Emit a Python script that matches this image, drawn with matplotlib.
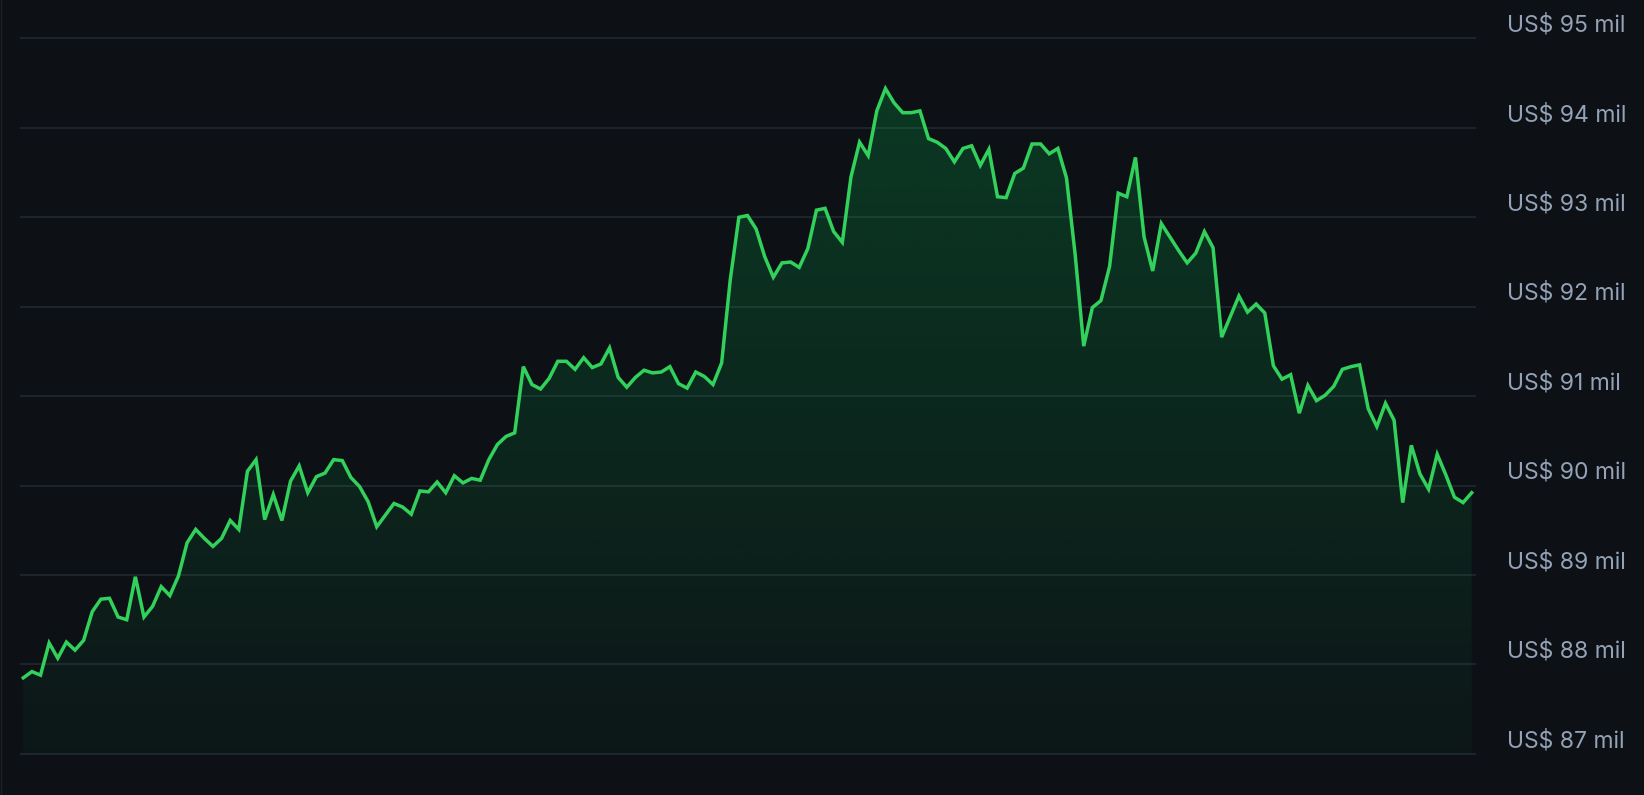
import numpy as np
import matplotlib as mat
mat.use('agg')
import matplotlib.pyplot as plt
from matplotlib import transforms
from matplotlib.lines import Line2D

# price series (hourly)
prices = [
    87.85, 87.92, 87.88, 88.24, 88.07, 88.25, 88.16, 88.27, 88.59, 88.73,
    88.74, 88.53, 88.50, 88.98, 88.53, 88.65, 88.87, 88.77, 88.99, 89.36,
    89.51, 89.41, 89.32, 89.41, 89.61, 89.51, 90.16, 90.29, 89.62, 89.90,
    89.61, 90.05, 90.22, 89.92, 90.10, 90.14, 90.29, 90.28, 90.09, 89.99,
    89.82, 89.54, 89.67, 89.80, 89.76, 89.68, 89.94, 89.93, 90.04, 89.92,
    90.11, 90.03, 90.08, 90.06, 90.29, 90.46, 90.55, 90.59, 91.33, 91.13,
    91.08, 91.20, 91.39, 91.39, 91.30, 91.43, 91.32, 91.36, 91.54, 91.21,
    91.10, 91.21, 91.29, 91.26, 91.27, 91.33, 91.14, 91.09, 91.27, 91.22,
    91.13, 91.37, 92.30, 93.00, 93.02, 92.87, 92.56, 92.33, 92.49, 92.50,
    92.44, 92.65, 93.08, 93.10, 92.84, 92.72, 93.45, 93.84, 93.69, 94.19,
    94.44, 94.28, 94.17, 94.17, 94.19, 93.88, 93.84, 93.77, 93.62, 93.77,
    93.80, 93.58, 93.76, 93.23, 93.22, 93.49, 93.55, 93.82, 93.82, 93.71,
    93.77, 93.44, 92.59, 91.56, 91.99, 92.07, 92.45, 93.27, 93.23, 93.67,
    92.78, 92.40, 92.93, 92.78, 92.63, 92.49, 92.60, 92.84, 92.66, 91.66,
    91.89, 92.12, 91.94, 92.03, 91.93, 91.34, 91.19, 91.24, 90.81, 91.12,
    90.95, 91.01, 91.11, 91.30, 91.33, 91.35, 90.86, 90.66, 90.92, 90.73,
    89.81, 90.45, 90.13, 89.96, 90.35, 90.12, 89.87, 89.81, 89.92,
]
tick_values = [87, 88, 89, 90, 91, 92, 93, 94, 95]
tick_labels = ['US$ %d mil' % v for v in tick_values]

BG = '#0d1116'
GRID = '#20272f'
LINE = '#32d15b'
FILL = '#03d458'
LABEL = '#94a3b8'

W, H = 1644, 795
fig = plt.figure(figsize=(W / 100, H / 100), dpi=100, facecolor=BG)
ax = fig.add_axes([20 / W, 0, (1476 - 20) / W, 1])
ax.set_facecolor(BG)

x = np.arange(len(prices))
y = np.array(prices)
ymin, ymax = 86.54, 95.43
base = 87.0
ax.set_xlim(-0.38, 168.5)
ax.set_ylim(ymin, ymax)

# gridlines
for v in tick_values:
    ax.axhline(v, color=GRID, lw=1.3, zorder=1)

# gradient fill under the line, fading out towards the bottom gridline
poly = ax.fill_between(x, y, base, color='none', lw=0)
alpha = np.linspace(0.23, 0.03, 256)[:, None]
rgb = np.array(mat.colors.to_rgb(FILL))
grad = np.zeros((256, 1, 4))
grad[:, :, :3] = rgb
grad[:, :, 3] = alpha
img = ax.imshow(grad, extent=[0, len(prices) - 1, base, ymax],
                aspect='auto', origin='upper', zorder=2)
img.set_clip_path(poly.get_paths()[0], transform=ax.transData)

ax.plot(x, y, color=LINE, lw=2.5, solid_joinstyle='miter', zorder=3)

# labels on the right, slightly above each gridline
trans = transforms.blended_transform_factory(ax.transAxes, ax.transData)
for v, lab in zip(tick_values, tick_labels):
    ax.annotate(lab, xy=(1, v), xycoords=trans, xytext=(31, 13),
                textcoords='offset pixels', ha='left', va='center',
                color=LABEL, fontsize=16.5, family=['Inter', 'DejaVu Sans'],
                annotation_clip=False)

ax.set_xticks([])
ax.set_yticks([])
for s in ax.spines.values():
    s.set_visible(False)

# faint card border on the left edge
fig.add_artist(Line2D([0.5 / W, 0.5 / W], [0, 1], transform=fig.transFigure,
                      color='#1c2128', lw=1))

fig.savefig('out.png', dpi=100, facecolor=BG)
